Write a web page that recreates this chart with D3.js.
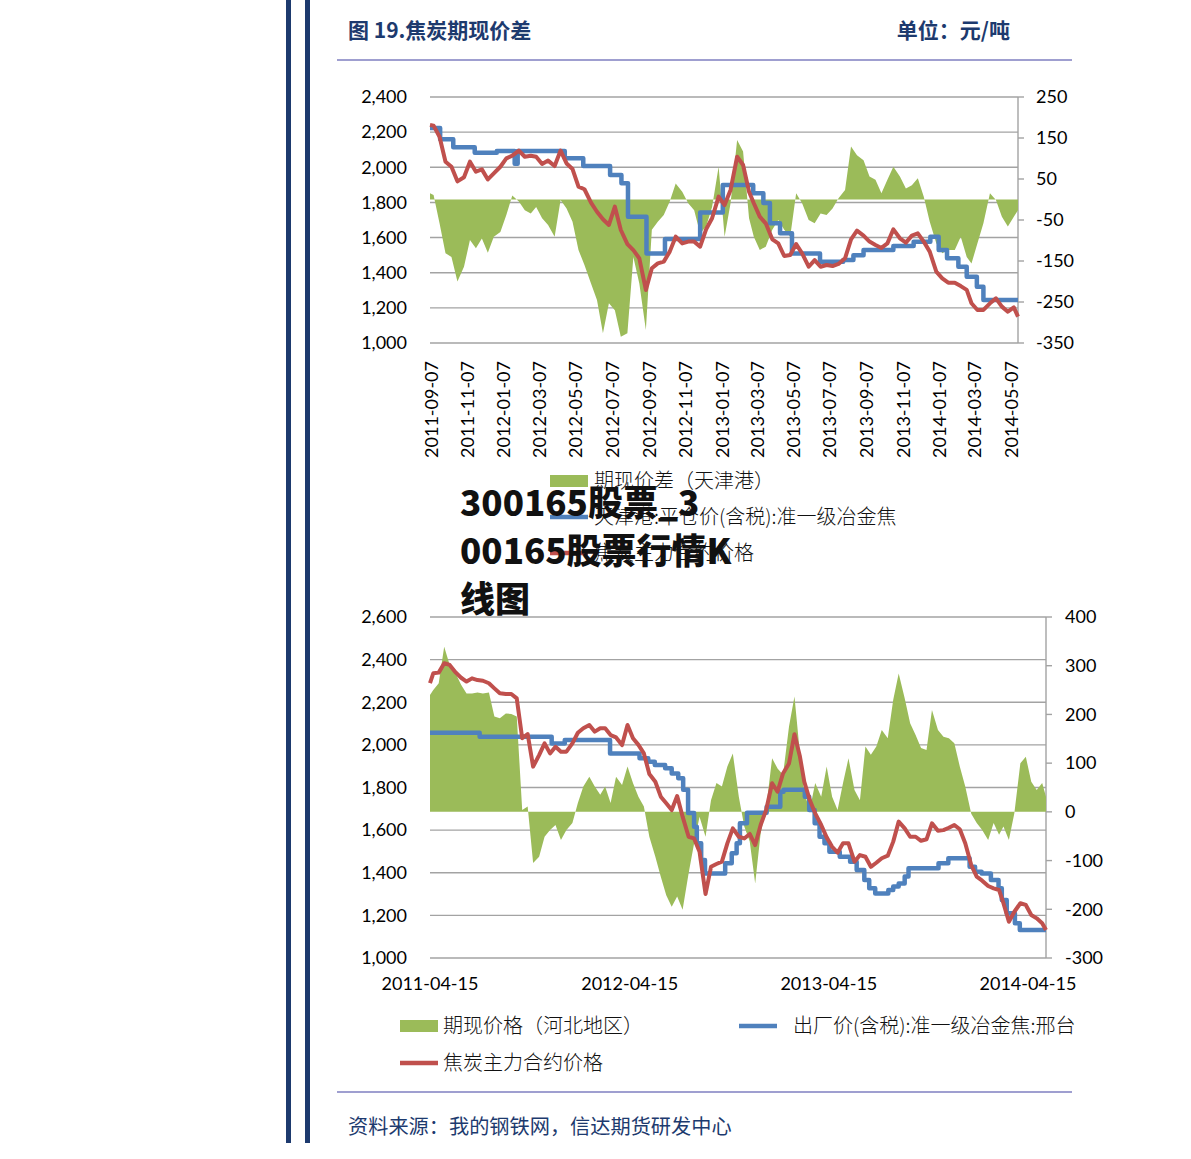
<!DOCTYPE html>
<html><head><meta charset="utf-8">
<script src="https://cdn.jsdelivr.net/npm/d3@7"></script>
<style>body{margin:0;background:#fff}</style>
</head><body>
<script>
// ---------- Chart 1 data (dekad samples) ----------
const dates1 = ["2011-09-05","2011-09-11","2011-09-21","2011-10-01","2011-10-11","2011-10-21","2011-11-01","2011-11-11","2011-11-21","2011-12-01","2011-12-11","2011-12-21",
"2012-01-01","2012-01-11","2012-01-21","2012-02-01","2012-02-11","2012-02-21","2012-03-01","2012-03-11","2012-03-21","2012-04-01","2012-04-11","2012-04-21","2012-05-01","2012-05-11","2012-05-21","2012-06-01","2012-06-11","2012-06-21","2012-07-01","2012-07-11","2012-07-21","2012-08-01","2012-08-11","2012-08-21","2012-09-01","2012-09-11","2012-09-21","2012-10-01","2012-10-11","2012-10-21","2012-11-01","2012-11-11","2012-11-21","2012-12-01","2012-12-11","2012-12-21",
"2013-01-01","2013-01-11","2013-01-21","2013-02-01","2013-02-11","2013-02-21","2013-03-01","2013-03-11","2013-03-21","2013-04-01","2013-04-11","2013-04-21","2013-05-01","2013-05-11","2013-05-21","2013-06-01","2013-06-11","2013-06-21","2013-07-01","2013-07-11","2013-07-21","2013-08-01","2013-08-11","2013-08-21","2013-09-01","2013-09-11","2013-09-21","2013-10-01","2013-10-11","2013-10-21","2013-11-01","2013-11-11","2013-11-21","2013-12-01","2013-12-11","2013-12-21",
"2014-01-01","2014-01-11","2014-01-21","2014-02-01","2014-02-11","2014-02-21","2014-03-01","2014-03-11","2014-03-21","2014-04-01","2014-04-11","2014-04-21","2014-05-01","2014-05-11","2014-05-18"];
const spread1 = [15,11,-58,-131,-140,-200,-164,-99,-119,-95,-130,-91,
-79,-38,10,-5,-26,-34,-18,-46,-62,-91,-1,-22,-54,-123,-160,-205,-245,-326,-253,-270,-335,-326,-140,-205,-318,-74,-54,-38,-5,39,19,-9,-26,-83,-66,-18,
80,-91,-9,145,117,-46,-91,-123,-115,-74,-50,-74,-91,15,-9,-50,-58,-34,-38,-22,3,23,129,108,96,56,48,15,48,80,56,27,35,52,7,-54,
-107,-131,-123,-123,-91,-140,-156,-107,-58,15,-1,-42,-66,-42,-26];
const futures1 = [2241,2237,2174,2032,2003,1920,1943,2032,1975,1988,1931,1965,
2003,2051,2066,2095,2060,2066,2060,2019,2038,2007,2095,2022,1990,1890,1875,1799,1747,1704,1672,1776,1643,1563,1529,1482,1302,1425,1453,1463,1520,1605,1567,1577,1577,1548,1647,1710,
1833,1785,1871,2060,2013,1861,1795,1719,1681,1590,1567,1495,1501,1563,1510,1434,1472,1434,1444,1438,1450,1482,1590,1639,1611,1577,1558,1541,1567,1647,1596,1571,1611,1624,1577,1520,
1406,1368,1343,1343,1324,1302,1226,1188,1188,1226,1254,1207,1178,1203,1150];
const spotDates1 = ["2011-09-05","2011-09-22","2011-10-14","2011-11-19","2011-12-26","2012-01-25","2012-01-30","2012-04-18","2012-05-19","2012-07-03","2012-07-22","2012-08-02","2012-09-02","2012-10-03","2012-12-01","2013-01-08","2013-02-28","2013-03-17","2013-03-28","2013-04-14","2013-05-04","2013-06-20","2013-07-29","2013-08-15","2013-09-01","2013-10-21","2013-11-24","2013-12-22","2014-01-05","2014-01-19","2014-02-07","2014-02-21","2014-03-10","2014-03-21","2014-05-18"];
const spot1 = [2224,2159,2114,2083,2093,2020,2093,2051,2007,1956,1909,1719,1510,1592,1742,1899,1852,1797,1681,1624,1510,1463,1472,1500,1529,1552,1576,1605,1529,1482,1434,1377,1320,1245,1245];
const leftTicks1 = [1000,1200,1400,1600,1800,2000,2200,2400];
const rightTicks1 = [-350,-250,-150,-50,50,150,250];
const dateTicks1 = ["2011-09-07","2011-11-07","2012-01-07","2012-03-07","2012-05-07","2012-07-07","2012-09-07","2012-11-07","2013-01-07","2013-03-07","2013-05-07","2013-07-07","2013-09-07","2013-11-07","2014-01-07","2014-03-07","2014-05-07"];

// ---------- Chart 2 data (dekad samples) ----------
const dates2 = ["2011-04-15","2011-04-21","2011-05-01","2011-05-11","2011-05-21","2011-06-01","2011-06-11","2011-06-21","2011-07-01","2011-07-11","2011-07-21","2011-08-01","2011-08-11","2011-08-21","2011-09-01","2011-09-11","2011-09-21","2011-10-01","2011-10-11","2011-10-21","2011-11-01","2011-11-11","2011-11-21","2011-12-01","2011-12-11","2011-12-21",
"2012-01-01","2012-01-11","2012-01-21","2012-02-01","2012-02-11","2012-02-21","2012-03-01","2012-03-11","2012-03-21","2012-04-01","2012-04-11","2012-04-21","2012-05-01","2012-05-11","2012-05-21","2012-06-01","2012-06-11","2012-06-21","2012-07-01","2012-07-11","2012-07-21","2012-08-01","2012-08-11","2012-08-21","2012-09-01","2012-09-11","2012-09-21","2012-10-01","2012-10-11","2012-10-21","2012-11-01","2012-11-11","2012-11-21","2012-12-01","2012-12-11","2012-12-21",
"2013-01-01","2013-01-11","2013-01-21","2013-02-01","2013-02-11","2013-02-21","2013-03-01","2013-03-11","2013-03-21","2013-04-01","2013-04-11","2013-04-21","2013-05-01","2013-05-11","2013-05-21","2013-06-01","2013-06-11","2013-06-21","2013-07-01","2013-07-11","2013-07-21","2013-08-01","2013-08-11","2013-08-21","2013-09-01","2013-09-11","2013-09-21","2013-10-01","2013-10-11","2013-10-21","2013-11-01","2013-11-11","2013-11-21","2013-12-01","2013-12-11","2013-12-21",
"2014-01-01","2014-01-11","2014-01-21","2014-02-01","2014-02-11","2014-02-21","2014-03-01","2014-03-11","2014-03-21","2014-04-01","2014-04-11","2014-04-21","2014-05-01","2014-05-11","2014-05-18"];
const spread2 = [240,250,264,339,302,284,261,243,243,245,243,245,196,192,202,201,196,4,11,-105,-92,-51,-37,-27,-58,-37,
-23,18,52,72,52,35,52,18,72,55,93,59,31,11,-51,-92,-133,-171,-195,-174,-201,-126,-65,-10,-51,24,59,52,93,120,31,-30,-61,-147,-44,7,
110,89,76,175,237,120,38,4,59,31,93,31,4,59,110,45,24,134,117,134,168,151,230,284,233,182,158,131,127,209,168,154,151,141,93,52,
-4,-23,-37,-58,-23,-47,-30,-58,-3,100,113,62,45,59,31];
const futures2 = [2290,2336,2339,2383,2375,2340,2315,2297,2312,2304,2301,2289,2265,2242,2239,2239,2218,2031,2051,1898,1952,2007,1960,1991,1968,1968,
2007,2057,2078,2093,2062,2078,2078,2046,2035,1999,2093,2031,2000,1960,1863,1827,1757,1726,1694,1760,1663,1569,1561,1499,1300,1428,1441,1452,1538,1608,1569,1561,1582,1530,1624,1694,
1820,1780,1866,1913,2050,1945,1827,1741,1679,1624,1566,1522,1494,1538,1538,1452,1483,1475,1428,1447,1468,1480,1546,1640,1608,1569,1569,1550,1557,1632,1597,1600,1611,1624,1604,1538,
1436,1382,1363,1338,1327,1319,1257,1170,1217,1257,1249,1202,1186,1163,1131];
const spotDates2 = ["2011-04-15","2011-07-15","2011-11-24","2011-12-18","2012-03-10","2012-05-03","2012-05-19","2012-05-31","2012-06-19","2012-07-01","2012-07-13","2012-07-22","2012-07-31","2012-08-11","2012-08-16","2012-08-24","2012-08-31","2012-10-07","2012-10-19","2012-10-28","2012-11-03","2012-11-16","2012-12-22","2013-01-16","2013-01-22","2013-03-02","2013-03-10","2013-03-20","2013-03-29","2013-04-07","2013-04-16","2013-05-05","2013-05-24","2013-06-05","2013-06-19","2013-06-28","2013-07-09","2013-08-02","2013-08-11","2013-08-21","2013-09-01","2013-09-08","2013-11-02","2013-11-20","2013-12-29","2014-01-08","2014-01-20","2014-02-06","2014-02-20","2014-02-26","2014-03-07","2014-03-22","2014-03-31","2014-05-18"];
const spot2 = [2057,2038,2007,2023,1960,1937,1921,1905,1890,1866,1843,1790,1680,1616,1538,1460,1397,1444,1491,1538,1632,1682,1710,1780,1790,1757,1694,1632,1569,1538,1499,1475,1452,1413,1366,1327,1303,1319,1335,1350,1382,1421,1444,1468,1428,1405,1397,1366,1327,1272,1210,1163,1131,1131];
const leftTicks2 = [1000,1200,1400,1600,1800,2000,2200,2400,2600];
const rightTicks2 = [-300,-200,-100,0,100,200,300,400];
const dateTicks2 = ["2011-04-15","2012-04-15","2013-04-15","2014-04-15"];

// ---------- texts ----------
const titleText = "图 19.焦炭期现价差";
const unitText = "单位：元/吨";
const legend1 = ["期现价差（天津港）","天津港:平仓价(含税):准一级冶金焦","焦炭主力合约价格"];
const legend2 = ["期现价格（河北地区）","出厂价(含税):准一级冶金焦:邢台","焦炭主力合约价格"];
const overlayLines = ["300165股票_3","00165股票行情K","线图"];
const sourceText = "资料来源：我的钢铁网，信达期货研发中心";

const GREEN="#9BBB59", BLUE="#4F81BD", RED="#C0504D", NAVY="#1d3a6e", GRID="#a3a3a3";
const CJK = "'Noto Sans CJK SC','Noto Sans',sans-serif";
const NUM = "Lato,'Open Sans',sans-serif";
const parse = d3.timeParse("%Y-%m-%d");

const svg = d3.select("body").append("svg").attr("width",1191).attr("height",1159);

// decorative page frame
svg.append("rect").attr("x",286).attr("y",0).attr("width",5).attr("height",1143).attr("fill",NAVY);
svg.append("rect").attr("x",305).attr("y",0).attr("width",5).attr("height",1143).attr("fill",NAVY);
svg.append("line").attr("x1",337).attr("x2",1072).attr("y1",60).attr("y2",60).attr("stroke","#7f7fc0").attr("stroke-width",1.6);
svg.append("line").attr("x1",337).attr("x2",1072).attr("y1",1092).attr("y2",1092).attr("stroke","#7f7fc0").attr("stroke-width",1.6);
svg.append("text").attr("x",348).attr("y",38).attr("font-family",CJK).attr("font-weight","bold").attr("font-size",21).attr("fill",NAVY).text(titleText);
svg.append("text").attr("x",1010).attr("y",38).attr("text-anchor","end").attr("font-family",CJK).attr("font-weight","bold").attr("font-size",21).attr("fill",NAVY).text(unitText);
svg.append("text").attr("x",348).attr("y",1134).attr("font-family",CJK).attr("font-size",20.2).attr("fill",NAVY).text(sourceText);

function drawChart(cfg){
  const g = svg.append("g");
  const x = d3.scaleTime().domain(cfg.xDomain.map(parse)).range([cfg.x0,cfg.x1]);
  const yL = d3.scaleLinear().domain(cfg.yLDomain).range([cfg.yb,cfg.yt]);
  const yR = d3.scaleLinear().domain(cfg.yRDomain).range([cfg.yb,cfg.yt]);
  g.selectAll(".grid").data(cfg.leftTicks).join("line")
    .attr("x1",cfg.x0).attr("x2",cfg.x1).attr("y1",d=>yL(d)).attr("y2",d=>yL(d))
    .attr("stroke",GRID).attr("stroke-width",1.4);
  g.selectAll(".ll").data(cfg.leftTicks).join("text")
    .attr("x",cfg.x0-23).attr("y",d=>yL(d)).attr("dy","0.35em").attr("text-anchor","end")
    .attr("font-family",NUM).attr("font-size",18).attr("fill","#000").text(d=>d3.format(",")(d));
  g.append("line").attr("x1",cfg.x1).attr("x2",cfg.x1).attr("y1",cfg.yt).attr("y2",cfg.yb).attr("stroke",GRID).attr("stroke-width",1.4);
  g.selectAll(".rt").data(cfg.rightTicks).join("line")
    .attr("x1",cfg.x1).attr("x2",cfg.x1+6).attr("y1",d=>yR(d)).attr("y2",d=>yR(d)).attr("stroke",GRID).attr("stroke-width",1.4);
  g.selectAll(".rl").data(cfg.rightTicks).join("text")
    .attr("x",cfg.x1+cfg.rOff).attr("y",d=>yR(d)).attr("dy","0.35em")
    .attr("font-family",NUM).attr("font-size",18).attr("fill","#000").text(d=>d);
  const sp = cfg.dates.map((d,i)=>({t:parse(d),v:cfg.spread[i]}));
  g.append("path").datum(sp).attr("fill",GREEN)
    .attr("d",d3.area().x(d=>x(d.t)).y0(yR(0)).y1(d=>yR(d.v)));
  const st = cfg.spotDates.map((d,i)=>({t:parse(d),v:cfg.spot[i]}));
  g.append("path").datum(st).attr("fill","none").attr("stroke",BLUE).attr("stroke-width",4.5).attr("stroke-linejoin","round")
    .attr("d",d3.line().x(d=>x(d.t)).y(d=>yL(d.v)).curve(d3.curveStepAfter));
  const fu = cfg.dates.map((d,i)=>({t:parse(d),v:cfg.futures[i]}));
  g.append("path").datum(fu).attr("fill","none").attr("stroke",RED).attr("stroke-width",4).attr("stroke-linejoin","round")
    .attr("d",d3.line().x(d=>x(d.t)).y(d=>yL(d.v)));
  if(cfg.rotate){
    g.selectAll(".xl").data(cfg.dateTicks).join("text")
      .attr("transform",d=>`translate(${x(parse(d))},${cfg.yb+18}) rotate(-90)`)
      .attr("text-anchor","end").attr("dy","0.35em")
      .attr("font-family",NUM).attr("font-size",18).attr("fill","#000").text(d=>d);
  } else {
    g.selectAll(".xl").data(cfg.dateTicks).join("text")
      .attr("x",d=>x(parse(d))).attr("y",cfg.yb+26).attr("dy","0.35em").attr("text-anchor","middle")
      .attr("font-family",NUM).attr("font-size",18).attr("fill","#000").text(d=>d);
  }
}

drawChart({x0:430,x1:1018,yt:97,yb:343,xDomain:["2011-09-05","2014-05-18"],yLDomain:[1000,2400],yRDomain:[-350,250],
  leftTicks:leftTicks1,rightTicks:rightTicks1,dateTicks:dateTicks1,dates:dates1,spread:spread1,futures:futures1,spotDates:spotDates1,spot:spot1,rotate:true,rOff:18});
drawChart({x0:430,x1:1046,yt:617,yb:958,xDomain:["2011-04-15","2014-05-18"],yLDomain:[1000,2600],yRDomain:[-300,400],
  leftTicks:leftTicks2,rightTicks:rightTicks2,dateTicks:dateTicks2,dates:dates2,spread:spread2,futures:futures2,spotDates:spotDates2,spot:spot2,rotate:false,rOff:19});

function legend(items, spec){
  items.forEach((t,i)=>{
    const s = spec[i];
    if(i===0) svg.append("rect").attr("x",s.x).attr("y",s.y-6).attr("width",38).attr("height",12).attr("fill",GREEN);
    else svg.append("line").attr("x1",s.x).attr("x2",s.x+38).attr("y1",s.y).attr("y2",s.y).attr("stroke",i===1?BLUE:RED).attr("stroke-width",4.5);
    svg.append("text").attr("x",s.tx).attr("y",s.y).attr("dy","0.36em").attr("font-family",CJK).attr("font-weight",300).attr("font-size",20).attr("fill","#111").text(t);
  });
}
legend(legend1,[{x:550,y:481,tx:594},{x:550,y:517,tx:594},{x:550,y:553,tx:594}]);
legend(legend2,[{x:400,y:1026,tx:443},{x:739,y:1026,tx:793},{x:400,y:1063,tx:443}]);

overlayLines.forEach((t,i)=>{
  svg.append("text").attr("x",460).attr("y",516+i*48).attr("font-family",CJK).attr("font-weight",900)
    .attr("font-size",35).attr("fill","#111").text(t);
});
</script>
</body></html>
